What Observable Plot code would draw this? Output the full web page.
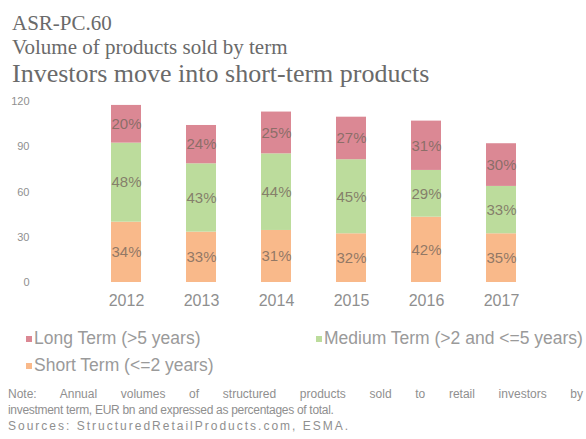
<!DOCTYPE html>
<html>
<head>
<meta charset="utf-8">
<script src="https://cdn.jsdelivr.net/npm/d3@7"></script>
<script src="https://cdn.jsdelivr.net/npm/@observablehq/plot@0.6"></script>
<style>
  html, body { margin: 0; padding: 0; background: #fff; width: 586px; height: 439px; overflow: hidden; position: relative; }
  .hdr { position: absolute; left: 12px; font-family: "Liberation Serif", "Times New Roman", serif; color: #6a6a6a; white-space: nowrap; line-height: 1; }
  #chart { position: absolute; left: 0; top: 90px; }
  .leg { position: absolute; font-family: "Liberation Sans", Arial, sans-serif; font-size: 17.5px; line-height: 1; color: #9a9a9a; white-space: nowrap; }
  .leg i { display: inline-block; width: 6px; height: 6px; margin-right: 2px; vertical-align: 2px; }
  .note { position: absolute; left: 8px; width: 575px; font-family: "Liberation Sans", Arial, sans-serif; font-size: 12px; color: #8f8f8f; line-height: 16px; }
  .just { text-align: justify; text-align-last: justify; }
</style>
</head>
<body>
<div class="hdr" style="top:13px;font-size:21px;">ASR-PC.60</div>
<div class="hdr" style="top:37px;font-size:21px;">Volume of products sold by term</div>
<div class="hdr" style="top:61px;font-size:26px;">Investors move into short-term products</div>
<div id="chart"></div>
<div id="legend"></div>
<div class="note" style="top:386px;">
  <div class="just">Note: Annual volumes of structured products sold to retail investors by</div>
  <div style="letter-spacing:-0.3px;">investment term, EUR bn and expressed as percentages of total.</div>
  <div style="letter-spacing:2px;">Sources: StructuredRetailProducts.com, ESMA.</div>
</div>
<script>
const years = ["2012", "2013", "2014", "2015", "2016", "2017"];
const series = ["Short Term (<=2 years)", "Medium Term (>2 and <=5 years)", "Long Term (>5 years)"];
const shortTerm = [40, 33.4, 34.5, 32.3, 43.3, 32.3];
const mediumTerm = [52.4, 45.3, 50.8, 49.1, 31, 31.4];
const longTerm = [25, 25.4, 27.7, 28.2, 32.7, 28.3];
const shortLabels = ["34%", "33%", "31%", "32%", "42%", "35%"];
const mediumLabels = ["48%", "43%", "44%", "45%", "29%", "33%"];
const longLabels = ["20%", "24%", "25%", "27%", "31%", "30%"];
const yTicks = [0, 30, 60, 90, 120];
const colors = ["#f9b98a", "#bcdc9c", "#db8894"];

const values = [shortTerm, mediumTerm, longTerm];
const labels = [shortLabels, mediumLabels, longLabels];
const data = [];
years.forEach((yr, i) => {
  series.forEach((s, k) => {
    data.push({year: yr, term: s, value: values[k][i], label: labels[k][i]});
  });
});

const chart = Plot.plot({
  width: 586,
  height: 225,
  marginTop: 11,
  marginBottom: 33,
  marginLeft: 63,
  marginRight: 23,
  style: {fontFamily: "'Liberation Sans', Arial, sans-serif", fontSize: "11px", color: "#8f8f8f", background: "transparent", overflow: "visible"},
  x: {domain: years, padding: 0.6, label: null, tickSize: 0, tickPadding: 12},
  y: {domain: [0, 120], ticks: yTicks, label: null, tickSize: 0, tickPadding: 34},
  color: {domain: series, range: colors},
  marks: [
    Plot.barY(data, Plot.stackY({x: "year", y: "value", fill: "term", z: "term", order: series})),
    Plot.text(data, Plot.stackY({x: "year", y: "value", z: "term", order: series, text: "label", fill: "#76675c", fontSize: 15, fillOpacity: 0.8}))
  ]
});
chart.querySelectorAll('[aria-label="x-axis tick label"]').forEach(g => g.setAttribute("font-size", "16"));
document.getElementById("chart").appendChild(chart);

const legendItems = [
  {name: series[2], color: colors[2], left: 26, top: 330},
  {name: series[1], color: colors[1], left: 316, top: 330},
  {name: series[0], color: colors[0], left: 26, top: 357}
];
const leg = document.getElementById("legend");
legendItems.forEach(d => {
  const el = document.createElement("div");
  el.className = "leg";
  el.style.left = d.left + "px";
  el.style.top = d.top + "px";
  const sw = document.createElement("i");
  sw.style.background = d.color;
  el.appendChild(sw);
  el.appendChild(document.createTextNode(d.name));
  leg.appendChild(el);
});
</script>
</body>
</html>
